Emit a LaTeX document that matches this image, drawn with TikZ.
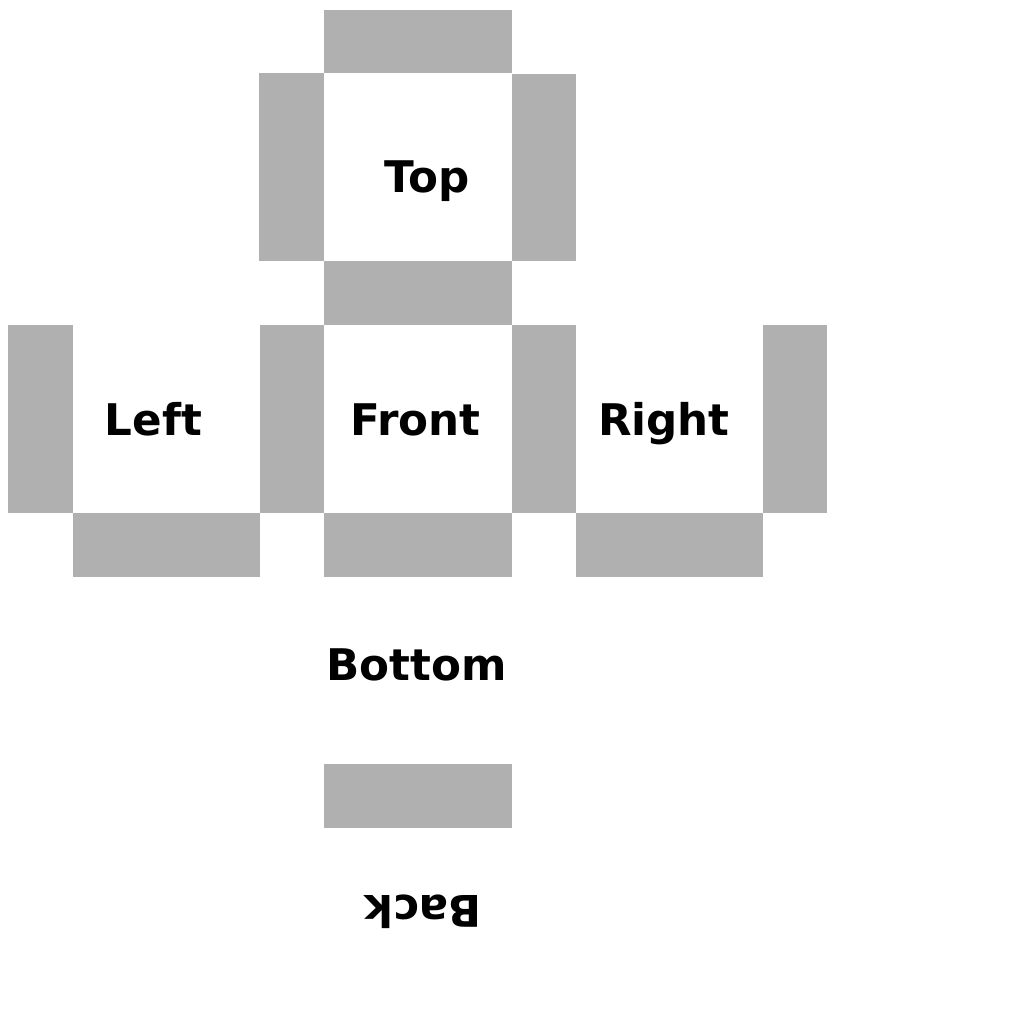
\documentclass[tikz,border=0pt]{standalone}
\usepackage{fontspec}
\setmainfont{DejaVu Sans}
\definecolor{flap}{HTML}{B0B0B0}
\tikzset{
  flapbox/.style={fill=flap, draw=none},
  facelabel/.style={font=\bfseries\fontsize{43.6}{52}\selectfont, anchor=base, inner sep=0pt}
}
\begin{document}
\begin{tikzpicture}[x=1pt,y=-1pt]
\useasboundingbox (0,0) rectangle (1024,1024);
\fill[white] (0,0) rectangle (1024,1024);
% flaps
\fill[flapbox] (324,10) rectangle (512,73);
\fill[flapbox] (259,73) rectangle (324,261);
\fill[flapbox] (512,74) rectangle (576,261);
\fill[flapbox] (324,261) rectangle (512,325);
\fill[flapbox] (8,325) rectangle (73,513);
\fill[flapbox] (260,325) rectangle (324,513);
\fill[flapbox] (512,325) rectangle (576,513);
\fill[flapbox] (763,325) rectangle (827,513);
\fill[flapbox] (73,513) rectangle (260,577);
\fill[flapbox] (324,513) rectangle (512,577);
\fill[flapbox] (576,513) rectangle (763,577);
\fill[flapbox] (324,764) rectangle (512,828);
% labels
\node[facelabel] (top) at (427,193) {Top};
\node[facelabel] (left) at (153.5,435.5) {Left};
\node[facelabel] (front) at (415.5,435.5) {Front};
\node[facelabel] (right) at (664,435.5) {Right};
\node[facelabel] (bottom) at (416.5,680) {Bottom};
\node[facelabel, rotate=180] (back) at (423,895) {Back};
\end{tikzpicture}
\end{document}
